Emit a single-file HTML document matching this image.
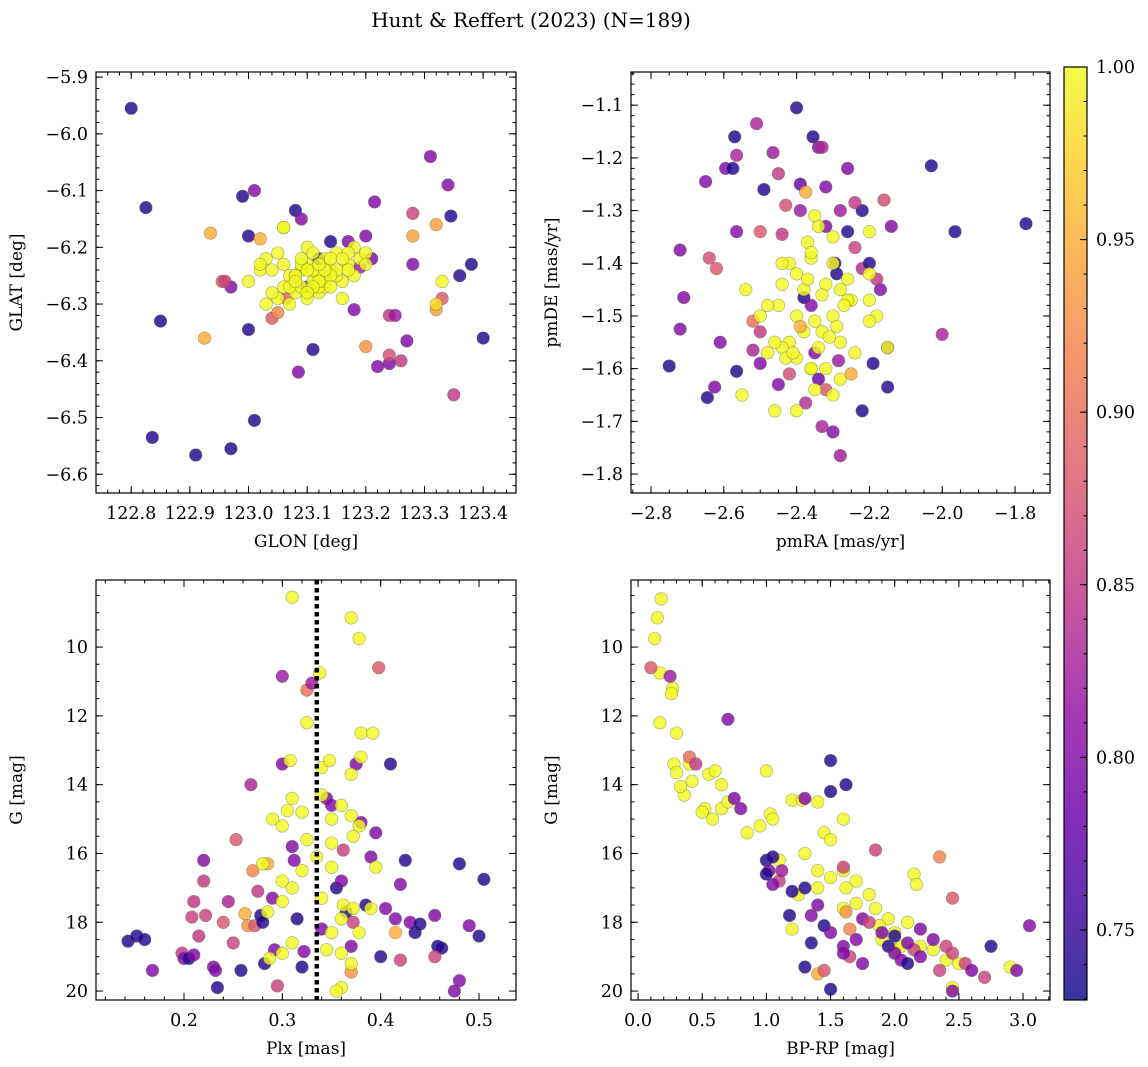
<!DOCTYPE html>
<html><head><meta charset="utf-8"><style>
html,body{margin:0;padding:0;background:#fff;}
svg{display:block;font-family:"DejaVu Serif","Liberation Serif",serif;}
</style></head><body>
<svg id="fig" width="1148" height="1067" viewBox="0 0 1148 1067" xmlns="http://www.w3.org/2000/svg">
<defs><linearGradient id="cbg" x1="0" y1="1" x2="0" y2="0"></linearGradient></defs>
<text x="531" y="27" font-size="20" text-anchor="middle">Hunt &amp; Reffert (2023) (N=189)</text>
</svg>
<script>
// ---------- DATA ----------
const tlLon=[122.80,122.825,122.85,122.836,122.91,122.97,123.01,122.925,122.935,122.99,123.01,123.0,122.97,122.955,123.08,123.09,123.11,123.085,123.31,123.34,123.345,123.32,123.36,123.38,123.4,123.35,123.33,123.28,123.28,123.215,123.28,123.26,123.22,123.24,123.27,123.24,123.24,123.25,123.2,123.32,123.32,123.33,123.04,123.05,123.065,123.0,123.02,123.12,123.20,123.19,123.18,123.17,123.14,123.21,122.96,123.1,123.06,
123.06,123.0,123.02,123.03,123.05,123.07,123.08,123.09,123.1,123.11,123.12,123.13,123.14,123.15,123.16,123.17,123.18,123.19,123.2,123.05,123.07,123.09,123.1,123.12,123.13,123.15,123.16,123.18,123.03,123.06,123.08,123.11,123.14,123.17,123.1,123.12,123.02,123.15,123.2,123.04,123.09,123.13,123.17,123.11,
123.08,123.1,123.12,123.14,123.06,123.09,123.11,123.13,123.16,123.04,123.07,123.12,123.1,123.14,123.08];
const tlLat=[-5.955,-6.13,-6.33,-6.535,-6.566,-6.555,-6.505,-6.36,-6.175,-6.11,-6.10,-6.345,-6.27,-6.26,-6.135,-6.15,-6.38,-6.42,-6.04,-6.09,-6.145,-6.16,-6.25,-6.23,-6.36,-6.46,-6.29,-6.23,-6.14,-6.12,-6.18,-6.40,-6.41,-6.405,-6.365,-6.39,-6.32,-6.32,-6.375,-6.31,-6.30,-6.26,-6.325,-6.315,-6.29,-6.18,-6.185,-6.22,-6.18,-6.235,-6.31,-6.19,-6.19,-6.22,-6.26,-6.27,-6.165,
-6.165,-6.26,-6.24,-6.22,-6.21,-6.25,-6.28,-6.24,-6.23,-6.26,-6.25,-6.22,-6.24,-6.21,-6.26,-6.23,-6.2,-6.22,-6.21,-6.29,-6.3,-6.27,-6.2,-6.28,-6.27,-6.25,-6.29,-6.25,-6.3,-6.27,-6.25,-6.21,-6.22,-6.24,-6.29,-6.27,-6.23,-6.24,-6.23,-6.28,-6.23,-6.26,-6.21,-6.24,
-6.25,-6.24,-6.26,-6.25,-6.23,-6.22,-6.27,-6.24,-6.22,-6.24,-6.27,-6.23,-6.28,-6.27,-6.26];
const tlP=[.74,.74,.74,.74,.74,.74,.74,.95,.95,.74,.80,.74,.80,.88,.74,.80,.74,.80,.80,.80,.74,.94,.74,.74,.74,.85,.88,.80,.86,.80,.94,.85,.80,.80,.80,.87,.85,.82,.93,.94,.98,1,.88,.92,.88,.74,.95,.74,.80,.82,.80,.80,.74,.80,.86,.80,1,
1,1,1,1,1,1,1,1,1,1,1,1,1,1,1,1,1,1,1,1,1,1,1,1,1,1,1,1,1,1,1,1,1,1,1,1,1,1,1,1,1,1,1,1,
1,1,1,1,1,1,1,1,1,1,1,1,1,1,1];

const trRA=[-2.40,-2.355,-2.51,-2.57,-2.565,-2.595,-2.575,-2.65,-2.465,-2.45,-2.34,-2.33,-2.32,-2.32,-2.26,-2.22,-2.24,-2.03,-1.965,-1.77,-2.16,-2.14,-2.49,-2.39,-2.375,-2.39,-2.28,-2.72,-2.71,-2.72,-2.75,-2.645,-2.625,-2.61,-2.62,-2.64,-2.565,-2.565,-2.5,-2.44,-2.43,-2.295,-2.29,-2.26,-2.24,-2.22,-2.2,-2.19,-2.15,-2.15,-2.22,-2.17,-2.18,-2.0,-2.3,-2.33,-2.28,-2.42,-2.45,-2.375,-2.5,-2.52,-2.5,-2.52,-2.38,-2.36,-2.35,-2.34,-2.285,-2.32,
-2.35,-2.34,-2.37,-2.36,-2.3,-2.42,-2.4,-2.44,-2.38,-2.32,-2.28,-2.25,-2.2,-2.2,-2.18,-2.26,-2.3,-2.35,-2.4,-2.45,-2.48,-2.5,-2.42,-2.38,-2.33,-2.28,-2.24,-2.2,-2.15,-2.44,-2.4,-2.36,-2.32,-2.28,-2.3,-2.35,-2.4,-2.46,-2.55,-2.54,-2.44,-2.36,-2.3,-2.26,-2.2,-2.48,-2.34,-2.25,
-2.39,-2.31,-2.27,-2.43,-2.37,-2.33,-2.41,-2.29,-2.36,-2.46];
const trDE=[-1.105,-1.16,-1.135,-1.16,-1.195,-1.22,-1.22,-1.245,-1.19,-1.23,-1.18,-1.18,-1.255,-1.33,-1.22,-1.3,-1.285,-1.215,-1.34,-1.325,-1.28,-1.33,-1.26,-1.25,-1.265,-1.30,-1.30,-1.375,-1.465,-1.525,-1.595,-1.655,-1.635,-1.55,-1.41,-1.39,-1.605,-1.34,-1.34,-1.345,-1.29,-1.4,-1.42,-1.34,-1.37,-1.41,-1.40,-1.59,-1.56,-1.635,-1.68,-1.45,-1.43,-1.535,-1.72,-1.71,-1.765,-1.61,-1.63,-1.665,-1.59,-1.565,-1.53,-1.51,-1.465,-1.48,-1.57,-1.62,-1.585,-1.64,
-1.31,-1.33,-1.36,-1.39,-1.35,-1.4,-1.42,-1.44,-1.45,-1.44,-1.45,-1.47,-1.42,-1.34,-1.5,-1.47,-1.5,-1.51,-1.5,-1.48,-1.48,-1.5,-1.55,-1.53,-1.53,-1.55,-1.57,-1.51,-1.56,-1.56,-1.58,-1.6,-1.6,-1.62,-1.65,-1.64,-1.68,-1.68,-1.65,-1.45,-1.4,-1.38,-1.4,-1.43,-1.47,-1.57,-1.56,-1.61,
-1.52,-1.54,-1.48,-1.58,-1.43,-1.46,-1.57,-1.52,-1.6,-1.55];
const trP=[.74,.74,.83,.74,.83,.80,.74,.80,.82,.85,.80,.83,.80,.80,.80,.74,.85,.74,.74,.74,.87,.80,.74,.78,.95,.82,.82,.80,.80,.80,.74,.74,.80,.80,.88,.87,.74,.80,.88,.85,.87,.74,.74,.74,.86,.84,.74,.74,.80,.74,.74,.80,.85,.83,.80,.83,.82,.87,.80,.84,.80,.83,.85,.90,.74,.80,.80,.78,.82,.88,
1,1,1,1,1,1,1,1,1,1,1,1,1,1,1,1,1,1,1,1,1,1,1,1,1,1,1,1,1,1,1,1,1,1,1,1,1,1,1,1,1,1,1,1,1,1,1,.95,.95,1,1,1,
1,1,1,1,1,1,1,1,1,1];

const blPlx=[0.143,0.152,0.16,0.168,0.198,0.2,0.205,0.21,0.208,0.21,0.215,0.22,0.22,0.222,0.23,0.232,0.234,0.24,0.245,0.25,0.253,0.258,0.262,0.265,0.268,0.27,0.272,0.275,0.278,0.28,0.282,0.285,0.29,0.292,0.295,0.3,0.3,0.31,0.312,0.315,0.32,0.322,0.325,0.33,0.34,0.345,0.35,0.355,0.36,0.362,0.37,0.372,0.375,0.38,0.385,0.39,0.395,0.398,0.4,0.405,0.41,0.415,0.42,0.425,0.43,0.435,0.44,0.455,0.458,0.462,0.455,0.48,0.48,0.475,0.49,0.5,0.505,0.42,0.415,0.365,0.37,
0.31,0.37,0.378,0.338,0.325,0.38,0.392,0.308,0.34,0.348,0.37,0.38,0.31,0.305,0.32,0.34,0.36,0.37,0.378,0.35,0.372,0.35,0.29,0.3,0.325,0.335,0.32,0.35,0.395,0.28,0.3,0.31,0.34,0.362,0.372,0.39,0.3,0.285,0.36,0.35,0.378,0.31,0.345,0.36,0.3,0.287,0.37,0.36,0.355];
const blG=[18.55,18.4,18.5,19.4,18.9,19.05,19.05,18.95,17.85,17.4,18.4,16.2,16.8,17.8,19.3,19.4,19.9,18.0,17.4,18.6,15.6,19.4,17.75,18.1,14.0,16.5,18.1,17.1,17.8,18.0,19.2,16.3,17.3,18.8,19.85,10.85,13.4,15.8,16.2,17.9,19.3,18.85,11.25,11.05,18.2,14.4,14.6,17.0,16.8,15.9,19.45,18.0,13.4,15.1,17.5,16.1,15.4,10.6,19.0,17.6,13.4,17.9,16.9,16.2,18.0,18.3,18.05,17.8,18.7,18.75,19.0,16.3,19.7,20.0,18.1,18.4,16.75,19.1,18.3,17.7,18.7,
8.55,9.15,9.75,10.75,12.2,12.5,12.5,13.3,13.5,13.3,13.7,13.2,14.4,14.75,14.8,14.3,14.6,14.9,15.2,15.0,15.5,15.7,15.0,15.2,15.6,16.1,16.5,16.4,16.4,16.3,16.8,17.0,17.3,17.5,17.6,17.6,17.4,17.7,17.9,18.3,18.3,18.6,18.8,18.9,18.9,19.05,19.2,19.9,20.0];
const blP=[.74,.74,.74,.80,.85,.80,.74,.80,.86,.85,.85,.80,.85,.86,.80,.80,.74,.88,.83,.86,.88,.74,.95,.93,.83,.92,.88,.85,.74,.74,.74,.95,.80,.80,.86,.82,.80,.80,.80,.74,.74,.80,.90,.82,.80,.80,.80,.74,.80,.86,.93,.86,.80,.80,.74,.80,.80,.88,.74,.80,.74,.80,.80,.74,.80,.74,.74,.80,.74,.74,.86,.74,.80,.80,.80,.74,.74,.86,.95,.74,.80,
1,1,1,1,1,1,1,1,1,1,1,1,1,1,1,1,1,1,1,1,1,1,1,1,1,1,1,1,1,1,1,1,1,1,1,1,1,1,1,1,1,1,1,1,1,1,1,1,1];

const brBP=[0.18,0.15,0.13,0.17,0.27,0.26,0.17,0.3,0.28,0.4,0.3,0.42,0.36,0.33,0.55,0.6,0.65,0.52,0.58,0.5,0.65,0.7,0.85,0.95,1.03,1.05,1.0,1.2,1.28,1.4,1.45,1.5,1.6,1.3,1.4,1.5,1.6,1.7,1.62,1.8,1.7,1.85,1.95,1.88,2.0,2.1,2.15,2.17,2.0,2.2,2.3,2.4,2.5,2.45,2.9,1.6,1.9,2.05,1.4,1.25,1.2,1.1,
0.1,0.25,0.4,0.45,0.7,0.75,0.8,1.0,1.05,1.02,1.1,1.12,1.2,1.18,1.3,1.35,1.4,1.45,1.5,1.62,1.35,1.5,1.6,1.7,1.75,1.8,1.9,1.95,2.0,2.05,2.1,2.15,2.2,2.3,2.35,2.4,2.45,2.55,2.6,2.7,2.75,2.95,3.05,1.3,1.4,1.5,1.45,1.65,2.35,2.45,1.6,1.62,1.65,1.85,1.5,1.3,1.6,1.0,1.05,2.0,2.1,1.75,2.45,2.2];
const brG=[8.6,9.15,9.75,10.75,11.2,11.35,12.2,12.5,13.4,13.4,13.65,13.9,14.3,14.05,13.7,13.6,14.0,14.7,15.0,14.8,14.7,14.5,15.4,15.2,14.85,15.0,13.6,14.45,14.45,14.5,15.4,15.6,15.0,16.0,16.5,16.7,16.5,16.8,17.0,17.2,17.45,17.6,17.9,18.1,18.3,18.0,16.6,16.9,18.8,18.7,18.8,19.1,19.2,19.9,19.3,17.6,18.5,18.7,17.0,17.2,18.2,16.2,
10.6,10.85,13.2,13.4,12.1,14.4,14.7,16.2,16.1,16.5,16.8,16.5,17.1,17.8,17.0,17.8,17.5,18.1,13.3,14.0,18.6,18.3,18.7,18.5,17.9,18.0,18.3,18.7,18.9,19.1,19.2,18.8,19.0,18.5,19.4,18.7,20.0,19.2,19.4,19.6,18.7,19.4,18.1,19.3,19.5,19.95,19.4,19.0,16.1,17.3,16.4,17.7,18.2,15.9,14.2,14.4,18.9,16.6,16.9,18.4,18.6,19.2,18.9,18.2];
const brP=[1,1,1,1,1,1,1,1,1,1,1,1,1,1,1,1,1,1,1,1,1,1,1,1,1,1,1,1,1,1,1,1,1,1,1,1,1,1,1,1,1,1,1,1,1,1,1,1,1,1,1,1,1,1,1,1,1,1,1,1,1,1,
.88,.82,.90,.85,.80,.80,.80,.74,.74,.80,.86,.82,.74,.74,.74,.80,.80,.74,.74,.74,.74,.80,.80,.80,.80,.86,.80,.74,.80,.80,.74,.86,.80,.80,.86,.86,.80,.86,.80,.86,.74,.80,.80,.74,.95,.74,.88,.86,.92,.88,.86,.93,.92,.86,.74,.80,.80,.74,.80,.74,.80,.80,.86,.80];

const cbTicks=[0.75,0.80,0.85,0.90,0.95,1.00];
const plxRef=0.335;

// ---------- HELPERS ----------
const NS="http://www.w3.org/2000/svg";
const svg=document.getElementById('fig');
function mk(tag,attrs,parent){const e=document.createElementNS(NS,tag);for(const k in attrs)e.setAttribute(k,attrs[k]);(parent||svg).appendChild(e);return e;}
const stops=[[0,'#0d0887'],[0.1,'#41049d'],[0.2,'#6a00a8'],[0.3,'#8f0da4'],[0.4,'#b12a90'],[0.5,'#cc4778'],[0.6,'#e16462'],[0.7,'#f2844b'],[0.8,'#fca636'],[0.9,'#fcce25'],[1,'#f0f921']];
function hex(h){return [1,3,5].map(i=>parseInt(h.substr(i,2),16));}
function plasma(t){t=Math.max(0,Math.min(1,t));for(let i=0;i<stops.length-1;i++){const a=stops[i],b=stops[i+1];if(t<=b[0]){const f=(t-a[0])/(b[0]-a[0]);const ca=hex(a[1]),cb=hex(b[1]);return 'rgb('+ca.map((v,j)=>Math.round(v+(cb[j]-v)*f)).join(',')+')';}}return stops[stops.length-1][1];}
const VMIN=0.7297,VMAX=1.0;
function cmap(p){return plasma((p-VMIN)/(VMAX-VMIN));}
function fmt(v,d){let s=v.toFixed(d);return s.replace('-','\u2212');}

function panel(name,box,xr,yr,xt,xm,yt,ym,xd,yd,xlab,ylab,xs,ys,ps,extra){
  const [L,T,R,B]=box;
  const X=v=>L+(v-xr[0])/(xr[1]-xr[0])*(R-L);
  const Y=v=>T+(v-yr[0])/(yr[1]-yr[0])*(B-T);
  const g=mk('g',{});
  
  
  const clip=mk('clipPath',{id:'clip-'+name},g);mk('rect',{x:L,y:T,width:R-L,height:B-T},clip);
  const pts=mk('g',{'clip-path':'url(#clip-'+name+')'},g);
  for(let i=0;i<xs.length;i++){
    const c=mk('circle',{cx:X(xs[i]).toFixed(1),cy:Y(ys[i]).toFixed(1),r:6.3,fill:cmap(ps[i]),'fill-opacity':0.82,stroke:'rgba(90,90,60,0.45)','stroke-width':0.7},pts);
    
    
  }
  if(extra)extra(g,X,Y,L,T,R,B);
  mk('rect',{x:L,y:T,width:R-L,height:B-T,fill:'none',stroke:'#000','stroke-width':1.2},g);
  const tk=mk('g',{stroke:'#000','stroke-width':1},g);
  const eps=1e-9;
  function rng(a,b,s){const out=[];const st=Math.ceil((Math.min(a,b)-eps)/s);for(let k=st;k*s<=Math.max(a,b)+eps;k++)out.push(k*s);return out;}
  rng(xr[0],xr[1],xm).forEach(v=>{const x=X(v);mk('line',{x1:x,y1:B,x2:x,y2:B-3.5},tk);mk('line',{x1:x,y1:T,x2:x,y2:T+3.5},tk);});
  rng(yr[0],yr[1],ym).forEach(v=>{const y=Y(v);mk('line',{x1:L,y1:y,x2:L+3.5,y2:y},tk);mk('line',{x1:R,y1:y,x2:R-3.5,y2:y},tk);});
  rng(xr[0],xr[1],xt).forEach(v=>{const x=X(v);mk('line',{x1:x,y1:B,x2:x,y2:B-7},tk);mk('line',{x1:x,y1:T,x2:x,y2:T+7},tk);
    const t=mk('text',{x:x,y:B+26,'font-size':17.5,'text-anchor':'middle'},g);t.textContent=fmt(v,xd);
    
    });
  rng(yr[0],yr[1],yt).forEach(v=>{const y=Y(v);mk('line',{x1:L,y1:y,x2:L+7,y2:y},tk);mk('line',{x1:R,y1:y,x2:R-7,y2:y},tk);
    const t=mk('text',{x:L-8,y:y+6,'font-size':17.5,'text-anchor':'end'},g);t.textContent=fmt(v,yd);
    
    });
  const xl=mk('text',{x:(L+R)/2,y:B+54,'font-size':17,'text-anchor':'middle'},g);xl.textContent=xlab;
  
  
  const yx=L-74,yy=(T+B)/2;
  const yl=mk('text',{x:yx,y:yy,'font-size':17,'text-anchor':'middle',transform:'rotate(-90 '+yx+' '+yy+')'},g);yl.textContent=ylab;
  
  
}

panel('glon-glat',[96,72,516,493],[122.74,123.456],[-5.891,-6.633],0.1,0.02,0.1,0.02,1,1,'GLON [deg]','GLAT [deg]',tlLon,tlLat,tlP);
panel('pm',[631,72,1050,493],[-2.855,-1.704],[-1.037,-1.836],0.2,0.05,0.1,0.02,1,1,'pmRA [mas/yr]','pmDE [mas/yr]',trRA,trDE,trP);
panel('plx-g',[96,580,516,1000],[0.1105,0.5376],[8.05,20.26],0.1,0.02,2,0.5,1,0,'Plx [mas]','G [mag]',blPlx,blG,blP,
  (g,X,Y,L,T,R,B)=>{const l=mk('line',{x1:X(plxRef),y1:T,x2:X(plxRef),y2:B,stroke:'#000','stroke-width':4.5,'stroke-dasharray':'4.5 3.5'},g);
    
    });
panel('cmd',[631,580,1050,1000],[-0.055,3.21],[8.05,20.26],0.5,0.1,2,0.5,1,0,'BP-RP [mag]','G [mag]',brBP,brG,brP);

// colorbar
(function(){
  const L=1064,T=67,R=1087,B=1000;
  const grad=document.getElementById('cbg');
  for(let i=0;i<=20;i++){mk('stop',{offset:(i/20),'stop-color':plasma(i/20),'stop-opacity':0.82},grad);}
  const g=mk('g',{});
  
  
  mk('rect',{x:L,y:T,width:R-L,height:B-T,fill:'url(#cbg)'},g);
  mk('rect',{x:L,y:T,width:R-L,height:B-T,fill:'none',stroke:'#000','stroke-width':1.2},g);
  const Y=v=>B-(v-VMIN)/(VMAX-VMIN)*(B-T);
  for(let k=73;k<=100;k++){const y=Y(k/100);mk('line',{x1:R,y1:y,x2:R-3.5,y2:y,stroke:'#000'},g);}
  cbTicks.forEach(v=>{const y=Y(v);mk('line',{x1:R,y1:y,x2:R-7,y2:y,stroke:'#000'},g);
    const t=mk('text',{x:R+9,y:y+6,'font-size':17.5},g);t.textContent=v.toFixed(2);
    
    });
})();
</script>
</body></html>
